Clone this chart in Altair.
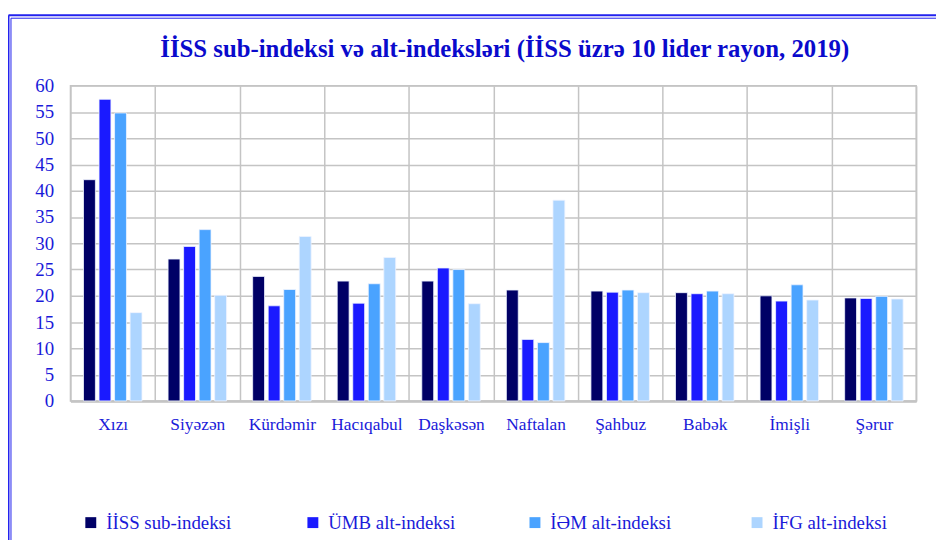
import altair as alt
import pandas as pd

title_text = "İİSS sub-indeksi və alt-indeksləri (İİSS üzrə 10 lider rayon, 2019)"
regions = ["Xızı", "Siyəzən", "Kürdəmir", "Hacıqabul", "Daşkəsən",
           "Naftalan", "Şahbuz", "Babək", "İmişli", "Şərur"]
series = ["İİSS sub-indeksi", "ÜMB alt-indeksi", "İƏM alt-indeksi", "İFG alt-indeksi"]
iiss = [42.1, 27.0, 23.7, 22.8, 22.8, 21.1, 20.9, 20.6, 20.0, 19.6]
umb = [57.4, 29.4, 18.1, 18.6, 25.3, 11.7, 20.7, 20.4, 19.0, 19.5]
iem = [54.8, 32.6, 21.2, 22.3, 25.0, 11.1, 21.1, 20.9, 22.1, 19.9]
ifg = [16.8, 20.1, 31.3, 27.3, 18.5, 38.2, 20.6, 20.4, 19.2, 19.4]
colors = ["#000066", "#1a1aff", "#4aa3ff", "#add5ff"]
y_ticks = list(range(0, 61, 5))

rows = []
for vals, s in zip([iiss, umb, iem, ifg], series):
    for r, v in zip(regions, vals):
        rows.append({"rayon": r, "seriya": s, "dəyər": v})
df = pd.DataFrame(rows)

FONT = "Liberation Serif"
TXT = "#1a1ad9"

bars = alt.Chart(df).mark_bar(stroke="#eef4ff", strokeWidth=0.8).encode(
    x=alt.X("rayon:N", sort=regions, title=None,
            scale=alt.Scale(paddingInner=0, paddingOuter=0),
            axis=alt.Axis(labelAngle=0, ticks=False, tickBand="extent", grid=True,
                          gridColor="#c4c4c4", gridWidth=1.5,
                          domainColor="#c4c4c4", domainWidth=2.5,
                          labelFont=FONT, labelFontSize=17.5, labelColor=TXT,
                          labelPadding=15)),
    xOffset=alt.XOffset("seriya:N", sort=series,
                        scale=alt.Scale(paddingInner=0.234, paddingOuter=0.84)),
    y=alt.Y("dəyər:Q", title=None,
            scale=alt.Scale(domain=[0, 60], nice=False),
            axis=alt.Axis(values=y_ticks, ticks=False, domain=False,
                          gridColor="#c4c4c4", gridWidth=1.5,
                          labelFont=FONT, labelFontSize=19, labelColor=TXT,
                          labelPadding=17)),
    color=alt.Color("seriya:N", sort=series,
                    scale=alt.Scale(domain=series, range=colors),
                    legend=alt.Legend(title=None, orient="none", legendX=11, legendY=431,
                                      direction="horizontal", columns=4, gridAlign="all",
                                      columnPadding=70, symbolType="square",
                                      symbolSize=121, symbolStrokeWidth=0,
                                      labelFont=FONT, labelFontSize=19, labelColor=TXT,
                                      labelOffset=6)),
)

frame = alt.Chart(alt.Data(values=[{}]))
left_outer = frame.mark_rule(color="#2222ee", strokeWidth=2).encode(
    x=alt.value(-62.5), y=alt.value(-71), y2=alt.value(470))
left_inner = frame.mark_rule(color="#2222ee", strokeWidth=1).encode(
    x=alt.value(-60), y=alt.value(-68), y2=alt.value(470))
top_outer = frame.mark_rule(color="#2222ee", strokeWidth=2).encode(
    x=alt.value(-62.5), x2=alt.value(880), y=alt.value(-71))
top_inner = frame.mark_rule(color="#2222ee", strokeWidth=1).encode(
    x=alt.value(-60), x2=alt.value(880), y=alt.value(-68))
title = frame.mark_text(text=title_text, font=FONT, fontSize=25, fontWeight="bold",
                        color="#0a0acc", align="center", baseline="alphabetic").encode(
    x=alt.value(438), y=alt.value(-29))

chart = alt.layer(bars, left_outer, left_inner, top_outer, top_inner, title).properties(
    width=853, height=318,
    autosize=alt.AutoSizeParams(type="none"),
    padding={"left": 63, "top": 76, "right": 20, "bottom": 140},
).configure_view(stroke="#c4c4c4", strokeWidth=1.5)

chart.save("out.html", embed_options={"renderer": "svg", "actions": False})
